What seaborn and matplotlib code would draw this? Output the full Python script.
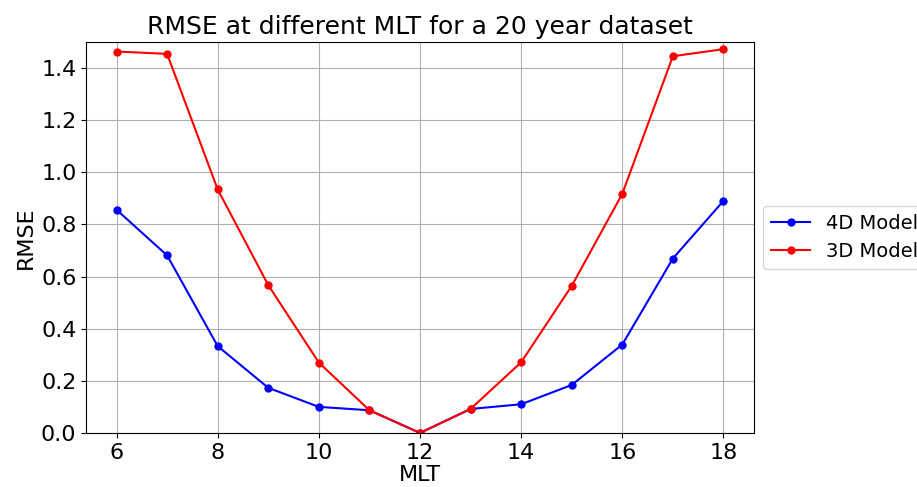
import matplotlib
matplotlib.use("Agg")
import matplotlib.pyplot as plt
import seaborn as sns
import pandas as pd

mlt = [6, 7, 8, 9, 10, 11, 12, 13, 14, 15, 16, 17, 18]
rmse_4d = [0.856, 0.681, 0.333, 0.173, 0.100, 0.087, 0.0, 0.092, 0.110, 0.184, 0.339, 0.669, 0.890]
rmse_3d = [1.463, 1.454, 0.934, 0.567, 0.270, 0.087, 0.0, 0.092, 0.271, 0.564, 0.917, 1.445, 1.472]
series_names = ["4D Model", "3D Model"]
series_colors = ["blue", "red"]

df = pd.DataFrame({
    "MLT": mlt * 2,
    "RMSE": rmse_4d + rmse_3d,
    "Model": [series_names[0]] * len(mlt) + [series_names[1]] * len(mlt),
})

fig = plt.figure(figsize=(9.17, 4.87), dpi=100)
ax = fig.add_axes([0.094, 0.111, 0.728, 0.803])

sns.lineplot(data=df, x="MLT", y="RMSE", hue="Model", palette=series_colors,
             marker="o", markersize=6, markeredgewidth=0, linewidth=1.5,
             ax=ax, legend=True)

ax.set_ylim(0, 1.5)
ax.set_xlim(5.4, 18.6)
ax.set_xticks([6, 8, 10, 12, 14, 16, 18])
ax.set_yticks([0.0, 0.2, 0.4, 0.6, 0.8, 1.0, 1.2, 1.4])
ax.grid(True, color="#b0b0b0", linewidth=0.8)
ax.set_axisbelow(True)
ax.tick_params(labelsize=16)
ax.set_xlabel("MLT", fontsize=16, labelpad=2)
ax.set_ylabel("RMSE", fontsize=16)
ax.set_title("RMSE at different MLT for a 20 year dataset", fontsize=18)
ax.legend(loc="center left", bbox_to_anchor=(1.0, 0.5), fontsize=14)

fig.savefig("out.png", dpi=100)
